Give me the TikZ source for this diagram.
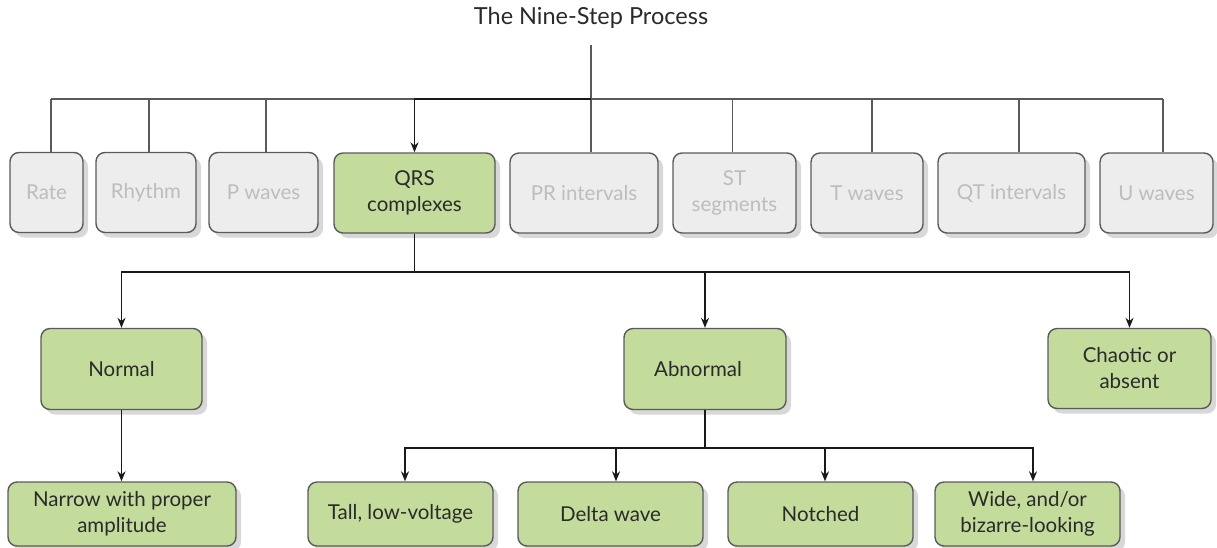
\documentclass[tikz,border=0pt]{standalone}
\usepackage{fontspec}
\setmainfont{Lato}
\usetikzlibrary{shadows,arrows.meta}
\definecolor{boxgreen}{HTML}{C3DC9C}
\definecolor{boxgray}{HTML}{EDEDED}
\definecolor{txtgray}{HTML}{BDBDBD}
\definecolor{edgegray}{HTML}{5A5A5A}
\definecolor{txtdark}{HTML}{2A2A2A}
\tikzset{
  base/.style={draw=edgegray, line width=1.4pt, rounded corners=9pt, align=center,
    font=\fontsize{20.5}{26}\selectfont, inner sep=0pt,
    drop shadow={shadow xshift=5pt, shadow yshift=-5pt, fill=black!22, opacity=0.7}},
  inactive/.style={base, fill=boxgray, text=txtgray, minimum height=80pt},
  active/.style={base, fill=boxgreen, text=txtdark},
  treeline/.style={draw=edgegray, line width=1.1pt},
  mainline/.style={draw=black!90, line width=1.4pt},
  link/.style={mainline, -{Stealth[length=10pt,width=8pt]}},
  titletext/.style={font=\fontsize{23.5}{28}\selectfont, text=txtdark, inner sep=0pt},
}
\begin{document}
\begin{tikzpicture}[x=1pt,y=-1pt]
\useasboundingbox (0,0) rectangle (1217,547);
% title
\node[titletext] (title) at (591,18) {The Nine-Step Process};
% top row
\node[inactive, minimum width=73pt]  (rate)   at (46.5,192.5) {Rate};
\node[inactive, minimum width=100pt] (rhythm) at (146,192.5) {Rhythm};
\node[inactive, minimum width=109pt] (pw)     at (263.5,192.5) {P waves};
\node[active, minimum width=161pt, minimum height=80pt] (qrs) at (414.5,193) {QRS\\complexes};
\node[inactive, minimum width=148pt] (pr)     at (584,193) {PR intervals};
\node[inactive, minimum width=123pt] (st)     at (734.5,193) {ST\\segments};
\node[inactive, minimum width=112pt] (tw)     at (867,193) {T waves};
\node[inactive, minimum width=147pt] (qt)     at (1011.5,193) {QT intervals};
\node[inactive, minimum width=113pt] (uw)     at (1156.5,193) {U waves};
% second row
\node[active, minimum width=161pt, minimum height=81pt] (normal)   at (121.5,369) {Normal};
\node[active, minimum width=162pt, minimum height=81pt] (abnormal) at (705,369) {\hspace*{-14pt}Abnormal};
\node[active, minimum width=163pt, minimum height=80pt] (chaotic)  at (1129.5,368.5) {Chaotic or\\absent};
% third row
\node[active, minimum width=228pt, minimum height=64pt] (narrow) at (122,514) {Narrow with proper\\amplitude};
\node[active, minimum width=185pt, minimum height=64pt] (tall)   at (400.5,514) {Tall, low-voltage};
\node[active, minimum width=185pt, minimum height=64pt] (delta)  at (610.5,514) {Delta wave};
\node[active, minimum width=185pt, minimum height=64pt] (notched) at (820.5,514) {Notched};
\node[active, minimum width=185pt, minimum height=64pt] (wide)   at (1027.5,514) {Wide, and/or\\bizarre-looking};
% coordinates
\coordinate (tl) at (591,45);
\coordinate (hl) at (591,99);
\coordinate (b1) at (414,272);
\coordinate (b2) at (705,448);
% top tree
\draw[treeline] (tl) -- (tl |- pr.north);
\draw[treeline] ([xshift=4.5pt]rate.north |- hl) -- ([xshift=6.5pt]uw.north |- hl);
\draw[treeline] ([xshift=4.5pt]rate.north) -- ([xshift=4.5pt]rate.north |- hl);
\draw[treeline] ([xshift=3pt]rhythm.north) -- ([xshift=3pt]rhythm.north |- hl);
\draw[treeline] ([xshift=2.5pt]pw.north) -- ([xshift=2.5pt]pw.north |- hl);
\draw[treeline] ([xshift=-2pt]st.north) -- ([xshift=-2pt]st.north |- hl);
\draw[treeline] ([xshift=5pt]tw.north) -- ([xshift=5pt]tw.north |- hl);
\draw[treeline] ([xshift=7.5pt]qt.north) -- ([xshift=7.5pt]qt.north |- hl);
\draw[treeline] ([xshift=6.5pt]uw.north) -- ([xshift=6.5pt]uw.north |- hl);
\draw[link] (hl) -| (qrs.north);
% second level
\draw[mainline] (qrs.south) -- (qrs.south |- b1);
\draw[link] (qrs.south |- b1) -| (normal.north);
\draw[link] (qrs.south |- b1) -| (abnormal.north);
\draw[link] (qrs.south |- b1) -| (chaotic.north);
% third level
\draw[link] (normal.south) -- (normal.south |- narrow.north);
\draw[mainline] (abnormal.south) -- (b2);
\draw[link] (b2) -| ([xshift=4.5pt]tall.north);
\draw[link] (b2) -| ([xshift=5.5pt]delta.north);
\draw[link] (b2) -| ([xshift=4.5pt]notched.north);
\draw[link] (b2) -| ([xshift=5.5pt]wide.north);
\end{tikzpicture}
\end{document}
